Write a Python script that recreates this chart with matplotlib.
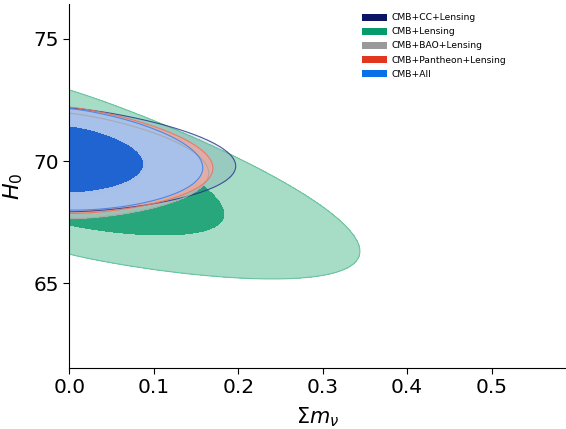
import numpy as np
import matplotlib
matplotlib.use("Agg")
import matplotlib.pyplot as plt
from matplotlib.patches import Patch

# ---- data ----
labels = ['CMB+CC+Lensing', 'CMB+Lensing', 'CMB+BAO+Lensing',
          'CMB+Pantheon+Lensing', 'CMB+All']
h0_mean = [70.05, 69.55, 69.80, 70.03, 70.07]          # H0 at sum m_nu = 0
h0_halfwidth95 = [2.12, 3.35, 2.15, 2.17, 2.07]        # 95% half width at sum m_nu = 0
mnu_upper95 = [0.197, 0.344, 0.165, 0.170, 0.158]      # 95% upper limit of sum m_nu
h0_mnu_slope = [-1.3, -9.4, -1.8, -1.9, -2.2]          # degeneracy dH0/dsum m_nu
shape_p = [1.4, 1.4, 1.4, 1.4, 1.5]

legend_colors = ['#0c1465', '#079a6c', '#9a9a9a', '#e2371e', '#0870e8']
fill95 = ['#3a4a90', '#a7dcc7', '#c8cbc8', '#eaa9a0', '#a3c3f0']
fill68 = ['#1a2a80', '#27a77b', '#9a9aa8', '#d98a8a', '#1f64d0']
alpha95 = [0.12, 1.0, 0.75, 0.9, 0.93]
alpha68 = [0.3, 1.0, 0.8, 0.9, 1.0]
edge95 = ['#1a2a80', '#62c29c', '#a8a8a8', '#e07868', '#4a80dc']
draw_order = [1, 0, 2, 3, 4]

xticks = [0.0, 0.1, 0.2, 0.3, 0.4, 0.5]
yticks = [65, 70, 75]


def std_levels(p):
    a = np.linspace(0, 14, 1400)
    u = np.linspace(-8, 8, 1600)
    A, U = np.meshgrid(a, u)
    F = 0.5 * A ** p + 0.5 * U ** 2
    d = np.exp(-F).ravel()
    Ff = F.ravel()
    idx = np.argsort(Ff)
    c = np.cumsum(d[idx]) / d.sum()
    L68 = Ff[idx][np.searchsorted(c, 0.68)]
    L95 = Ff[idx][np.searchsorted(c, 0.95)]
    return L68, L95


fig = plt.figure(figsize=(5.66, 4.29), dpi=100)
ax = fig.add_axes([0.1224, 0.1422, 0.8776, 0.8485])

m = np.linspace(0, 0.6, 700)
H = np.linspace(60, 78, 700)
M, HH = np.meshgrid(m, H)

for i in draw_order:
    p = shape_p[i]
    L68, L95 = std_levels(p)
    lam = mnu_upper95[i] / (2 * L95) ** (1.0 / p)
    sH = h0_halfwidth95[i] / np.sqrt(2 * L95)
    F = 0.5 * (M / lam) ** p + 0.5 * ((HH - h0_mean[i] - h0_mnu_slope[i] * M) / sH) ** 2
    ax.contourf(M, HH, F, levels=[L68, L95], colors=[fill95[i]], alpha=alpha95[i])
    ax.contour(M, HH, F, levels=[L95], colors=[edge95[i]], linewidths=0.8,
               alpha=0.9 if i != 0 else 0.75)
    ax.contourf(M, HH, F, levels=[-1, L68], colors=[fill68[i]], alpha=alpha68[i])

ax.set_xlim(0, 0.588)
ax.set_ylim(61.55, 76.41)
ax.set_xticks(xticks)
ax.set_yticks(yticks)
ax.spines['top'].set_visible(False)
ax.spines['right'].set_visible(False)
ax.tick_params(labelsize=14.5, length=4, width=0.8)
ax.set_xlabel(r'$\Sigma m_\nu$', fontsize=15, labelpad=6)
ax.set_ylabel(r'$H_0$', fontsize=16, labelpad=6)

handles = [Patch(facecolor=c, edgecolor='none') for c in legend_colors]
ax.legend(handles, labels, loc='upper left', bbox_to_anchor=(356 / 566, 1 - 7 / 429),
          bbox_transform=fig.transFigure, frameon=False, fontsize=6.6,
          handlelength=2.7, handleheight=0.8, handletextpad=0.5,
          labelspacing=0.55, borderpad=0.2)

fig.savefig('out.png', dpi=100)
